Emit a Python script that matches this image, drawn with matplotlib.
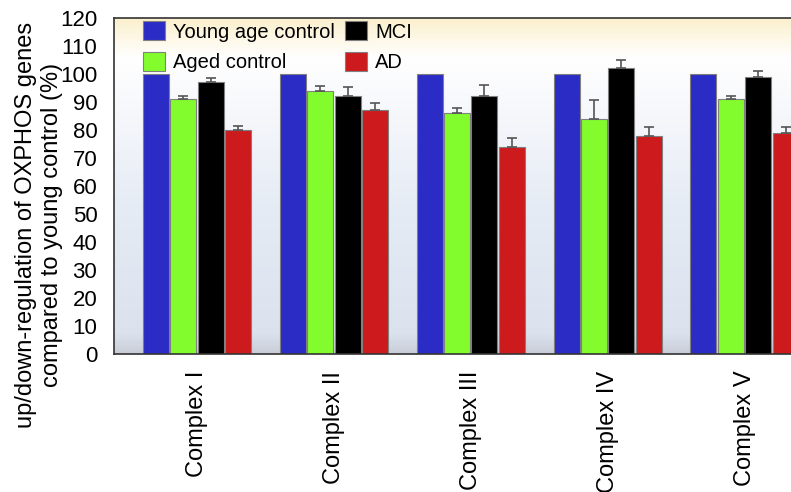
import numpy as np
import matplotlib.pyplot as plt
from matplotlib.colors import LinearSegmentedColormap

plt.rcParams['font.family'] = ['Liberation Sans', 'DejaVu Sans']

complexes = ['Complex I', 'Complex II', 'Complex III', 'Complex IV', 'Complex V']
groups = ['Young age control', 'Aged control', 'MCI', 'AD']
colors = ['#2b2bc6', '#82fc2c', '#000000', '#cc1a1d']

young = [100, 100, 100, 100, 100]
aged = [91, 94, 86, 84, 91]
mci = [97, 92, 92, 102, 99]
ad = [80, 87, 74, 78, 79]

aged_err = [1.2, 1.8, 2, 6.7, 1]
mci_err = [1.5, 3.5, 4, 3, 2]
ad_err = [1.5, 2.6, 3, 3.2, 2]

values = [young, aged, mci, ad]
errs = [None, aged_err, mci_err, ad_err]

fig = plt.figure(figsize=(7.91, 4.92), dpi=100)
ax = fig.add_axes([114/791, 138/492, 699/791, 336/492])

# background gradient
cmap = LinearSegmentedColormap.from_list('bg', [
    (0.0, '#c9cdd8'), (0.06, '#dbe2ee'), (0.45, '#e6ecf5'),
    (0.75, '#f8f9fc'), (0.88, '#ffffff'), (1.0, '#fbf0cc')])
grad = np.linspace(0, 1, 256).reshape(-1, 1)
ax.imshow(grad, aspect='auto', cmap=cmap, origin='lower',
          extent=[0, 1, 0, 1], transform=ax.transAxes, zorder=0)

x = np.arange(len(complexes))
w = 0.19
offs = [-0.3, -0.1, 0.1, 0.3]
for i in range(4):
    kw = {}
    if errs[i] is not None:
        kw = dict(yerr=[np.zeros(5), errs[i]], capsize=3.5,
                  error_kw=dict(ecolor='#555555', elinewidth=1.2, capthick=1.2))
    ax.bar(x + offs[i], values[i], w, color=colors[i], edgecolor='#808080',
           linewidth=0.8, label=groups[i], zorder=2, **kw)

ax.set_xlim(-0.606, 4.5)
ax.set_ylim(0, 120)
ax.set_yticks(range(0, 121, 10))
ax.tick_params(axis='y', length=0, labelsize=16, pad=12)
ax.tick_params(axis='x', length=0, labelsize=17, pad=12)
ax.set_xticks(x)
ax.set_xticklabels(complexes, rotation=90)
for s in ax.spines.values():
    s.set_color('#333333')
    s.set_linewidth(1.2)

ax.set_ylabel('up/down-regulation of OXPHOS genes\ncompared to young control (%)',
              fontsize=17, linespacing=1.25)
ax.yaxis.set_label_coords(-0.073, 0.384)

h, l = ax.get_legend_handles_labels()
ax.legend(h, l, ncol=2, loc='upper left',
          bbox_to_anchor=(0.03, 1.015), frameon=False, fontsize=14.5,
          handlelength=1.1, handleheight=1.1, handletextpad=0.4,
          columnspacing=0.5, labelspacing=0.5, borderaxespad=0)

fig.savefig('out.png', dpi=100)
